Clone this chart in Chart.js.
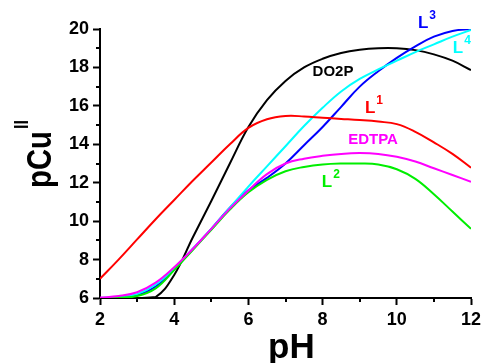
<!DOCTYPE html>
<html>
<head>
<meta charset="utf-8">
<script src="https://cdn.jsdelivr.net/npm/chart.js@4/dist/chart.umd.min.js"></script>
<style>
  html, body { margin: 0; padding: 0; background: #fff; }
  #wrap { width: 481px; height: 363px; }
</style>
</head>
<body>
<div id="wrap"><canvas id="myChart" width="481" height="363"></canvas></div>
<script>
  // pH grid and pCu(II) values
  const pH = [2, 2.5, 3, 3.5, 4, 4.5, 5, 5.5, 6, 6.5, 7, 7.5, 8, 8.5, 9, 9.5, 10, 10.5, 11, 11.5, 12];
  const do2p = [6.0, 6.0, 6.0, 6.05, 7.2, 9.15, 11.05, 13.0, 14.9, 16.3, 17.3, 18.0, 18.45, 18.75, 18.92, 19.0, 19.0, 18.9, 18.68, 18.35, 17.86];
  const l1 = [7.0, 8.0, 9.05, 10.1, 11.1, 12.1, 13.05, 14.0, 14.85, 15.3, 15.47, 15.45, 15.38, 15.32, 15.26, 15.18, 15.05, 14.65, 14.1, 13.5, 12.78];
  const l2 = [6.0, 6.02, 6.1, 6.5, 7.45, 8.5, 9.55, 10.6, 11.5, 12.15, 12.6, 12.82, 12.95, 13.0, 13.0, 12.95, 12.7, 12.2, 11.4, 10.5, 9.6];
  const l3 = [6.0, 6.03, 6.15, 6.6, 7.5, 8.55, 9.6, 10.7, 11.6, 12.25, 13.0, 13.95, 14.9, 15.95, 17.0, 17.8, 18.5, 19.1, 19.6, 19.9, 20.0];
  const l4 = [6.0, 6.04, 6.2, 6.7, 7.55, 8.55, 9.6, 10.7, 11.8, 12.85, 13.9, 14.95, 15.9, 16.75, 17.4, 17.9, 18.35, 18.8, 19.2, 19.6, 19.95];
  const edtpa = [6.02, 6.1, 6.3, 6.8, 7.6, 8.55, 9.6, 10.65, 11.6, 12.45, 13.0, 13.25, 13.4, 13.5, 13.54, 13.5, 13.35, 13.1, 12.75, 12.4, 12.05];

  const xTicks = [2, 4, 6, 8, 10, 12];
  const yTicks = [6, 8, 10, 12, 14, 16, 18, 20];

  const FONT = "Arial, 'Liberation Sans', sans-serif";

  function pts(vals) {
    return pH.map(function(x, i) { return { x: x, y: vals[i] }; });
  }

  function line(vals, color) {
    return {
      data: pts(vals),
      borderColor: color,
      borderWidth: 2,
      pointRadius: 0,
      fill: false,
      tension: 0.4
    };
  }

  // curve labels, in data coordinates
  const labels = [
    { text: 'DO2P', sup: '', color: '#000000', x: 8.28, y: 17.79, center: true },
    { text: 'EDTPA', sup: '', color: '#ff00ff', x: 9.36, y: 14.22, center: true },
    { text: 'L', sup: '1', color: '#ff0000', x: 9.14, y: 15.63 },
    { text: 'L', sup: '2', color: '#00ee00', x: 7.98, y: 11.77 },
    { text: 'L', sup: '3', color: '#0000ff', x: 10.57, y: 20.05 },
    { text: 'L', sup: '4', color: '#00ffff', x: 11.51, y: 18.75 }
  ];

  const extras = {
    id: 'extras',
    afterDraw(chart) {
      const ctx = chart.ctx;
      const xs = chart.scales.x, ys = chart.scales.y;
      const a = chart.chartArea;
      ctx.save();
      // minor ticks
      ctx.strokeStyle = '#000';
      ctx.lineWidth = 2;
      ctx.beginPath();
      for (let v = 3; v < 12; v += 2) {
        const px = Math.round(xs.getPixelForValue(v));
        ctx.moveTo(px, a.bottom);
        ctx.lineTo(px, a.bottom + 4);
      }
      for (let v = 7; v < 20; v += 2) {
        const py = Math.round(ys.getPixelForValue(v));
        ctx.moveTo(a.left, py);
        ctx.lineTo(a.left - 4, py);
      }
      ctx.stroke();

      // curve labels
      labels.forEach(function(l) {
        const px = xs.getPixelForValue(l.x);
        const py = ys.getPixelForValue(l.y);
        ctx.fillStyle = l.color;
        if (l.center) {
          ctx.font = 'bold 15px ' + FONT;
          ctx.textAlign = 'center';
          ctx.textBaseline = 'middle';
          ctx.fillText(l.text, px, py);
        } else {
          ctx.font = 'bold 17px ' + FONT;
          ctx.textAlign = 'left';
          ctx.textBaseline = 'alphabetic';
          ctx.fillText(l.text, px, py);
          const w = ctx.measureText(l.text).width;
          ctx.font = 'bold 12px ' + FONT;
          ctx.fillText(l.sup, px + w + 1, py - 9);
        }
      });

      // axis titles
      ctx.fillStyle = '#000';
      ctx.textAlign = 'left';
      ctx.textBaseline = 'alphabetic';
      ctx.font = 'bold 35px ' + FONT;
      ctx.fillText('pH', 268, 358);

      ctx.save();
      ctx.translate(51, 188);
      ctx.rotate(-Math.PI / 2);
      ctx.fillText('pCu', 0, 0, 57);
      ctx.restore();

      ctx.save();
      ctx.translate(28, 129);
      ctx.rotate(-Math.PI / 2);
      ctx.font = 'bold 20px ' + FONT;
      ctx.fillText('II', 0, 0, 9);
      ctx.restore();

      ctx.restore();
    }
  };

  const config = {
    type: 'line',
    data: {
      datasets: [
        line(l1, '#ff0000'),
        line(edtpa, '#ff00ff'),
        line(l2, '#00ee00'),
        line(l4, '#00ffff'),
        line(l3, '#0000ff'),
        line(do2p, '#000000')
      ]
    },
    options: {
      responsive: false,
      animation: false,
      layout: { padding: { top: 29, right: 10, left: 0, bottom: 0 } },
      plugins: {
        legend: { display: false },
        tooltip: { enabled: false }
      },
      scales: {
        x: {
          type: 'linear',
          min: 2,
          max: 12,
          afterBuildTicks: function(s) { s.ticks = xTicks.map(function(v) { return { value: v }; }); },
          afterFit: function(s) { s.height = 65; s.paddingRight = 0; s.paddingLeft = 0; },
          ticks: {
            color: '#000',
            font: { family: FONT, size: 18, weight: 'bold' },
            padding: 4,
            maxRotation: 0
          },
          grid: {
            drawOnChartArea: false,
            drawTicks: true,
            tickLength: 7,
            tickWidth: 2,
            tickColor: '#000'
          },
          border: { display: true, color: '#000', width: 2 }
        },
        y: {
          type: 'linear',
          min: 6,
          max: 20,
          afterBuildTicks: function(s) { s.ticks = yTicks.map(function(v) { return { value: v }; }); },
          afterFit: function(s) { s.width = 100; },
          ticks: {
            color: '#000',
            font: { family: FONT, size: 18, weight: 'bold' },
            padding: 4
          },
          grid: {
            drawOnChartArea: false,
            drawTicks: true,
            tickLength: 7,
            tickWidth: 2,
            tickColor: '#000'
          },
          border: { display: true, color: '#000', width: 2 }
        }
      }
    },
    plugins: [extras]
  };

  var myChart = new Chart(document.getElementById('myChart'), config);
</script>
</body>
</html>
